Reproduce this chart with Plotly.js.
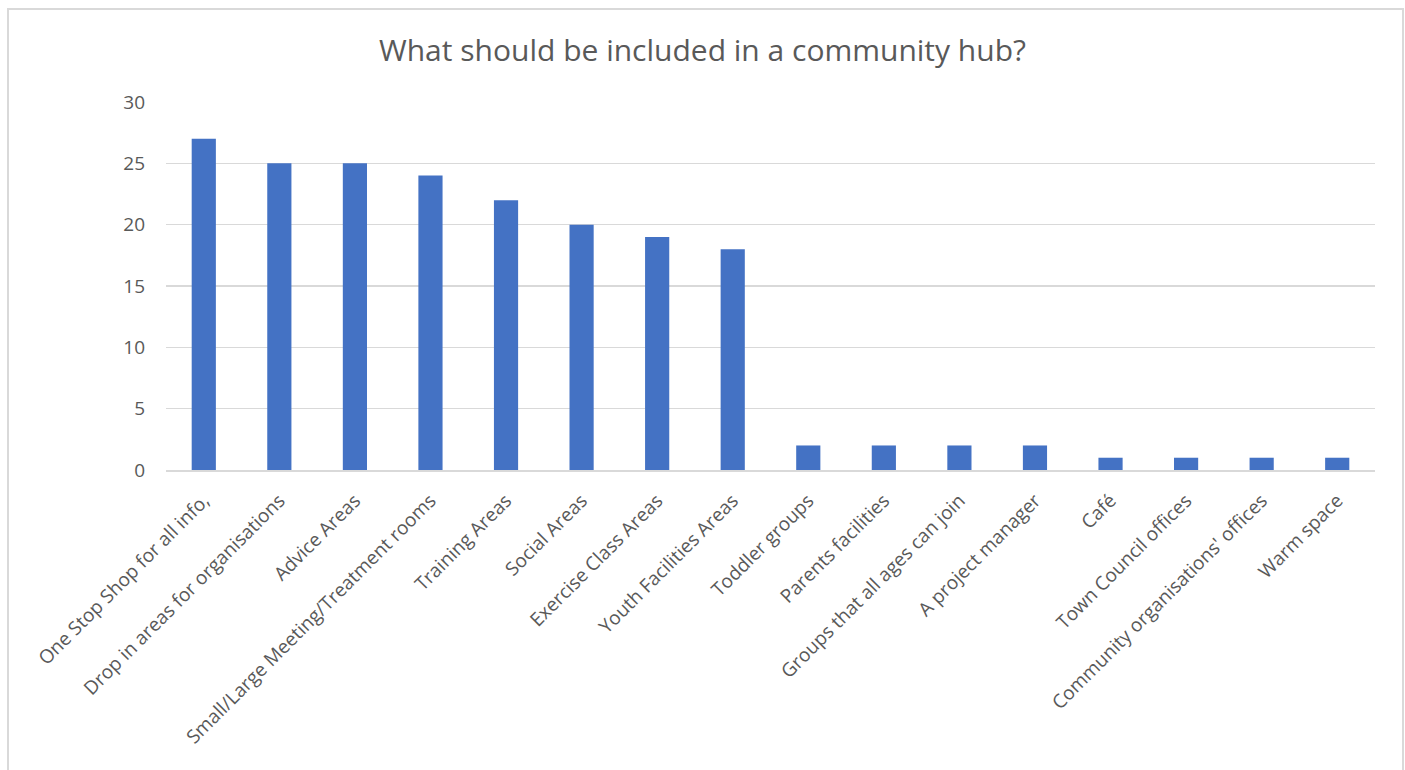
<!DOCTYPE html>
<html>
<head>
<meta charset="utf-8">
<script src="https://cdn.plot.ly/plotly-3.0.1.min.js"></script>
<style>
html,body{margin:0;padding:0;background:#fff;overflow:hidden;}
#chart{position:absolute;left:0;top:0;width:1405px;height:770px;}
#frame{position:absolute;left:7px;top:8px;width:1393px;height:800px;border:2px solid #d9d9d9;pointer-events:none;}
</style>
</head>
<body>
<div id="chart"></div>
<div id="frame"></div>
<script>
const categories = [
  "One Stop Shop for all info,",
  "Drop in areas for organisations",
  "Advice Areas",
  "Small/Large Meeting/Treatment rooms",
  "Training Areas",
  "Social Areas",
  "Exercise Class Areas",
  "Youth Facilities Areas",
  "Toddler groups",
  "Parents facilities",
  "Groups that all ages can join",
  "A project manager",
  "Café",
  "Town Council offices",
  "Community organisations' offices",
  "Warm space"
];
const values = [27, 25, 25, 24, 22, 20, 19, 18, 2, 2, 2, 2, 1, 1, 1, 1];
const yTicks = [0, 5, 10, 15, 20, 25, 30];

const font = "Open Sans, Noto Sans, sans-serif";
const data = [{
  type: 'bar',
  x: categories,
  y: values,
  marker: {color: '#4472C4'},
  hoverinfo: 'x+y'
}];
const layout = {
  width: 1405, height: 770,
  paper_bgcolor: '#fff', plot_bgcolor: '#fff',
  margin: {l: 166, r: 30, t: 102, b: 300},
  bargap: 0.68,
  showlegend: false,
  title: {text: 'What should be included in a community hub?', x: 0.5, xref: 'container', xanchor: 'center',
          y: 0.935, yref: 'container', yanchor: 'middle',
          font: {family: font, size: 30, color: '#595959'}},
  xaxis: {
    type: 'category', tickangle: -45, showgrid: false, showline: true, linecolor: '#d9d9d9', linewidth: 2,
    ticks: '', tickfont: {family: font, size: 19, color: '#595959'}, ticklabelstandoff: 10, automargin: false
  },
  yaxis: {
    range: [0, 30], tickvals: yTicks, ticktext: yTicks.map(String), showgrid: true, gridcolor: '#d9d9d9', gridwidth: 1.5,
    zeroline: false, showline: false, ticks: '', tickfont: {family: font, size: 19, color: '#595959'},
    ticklabelstandoff: 20, automargin: false
  }
};
Plotly.newPlot('chart', data, layout, {displayModeBar: false, staticPlot: true});
</script>
</body>
</html>
